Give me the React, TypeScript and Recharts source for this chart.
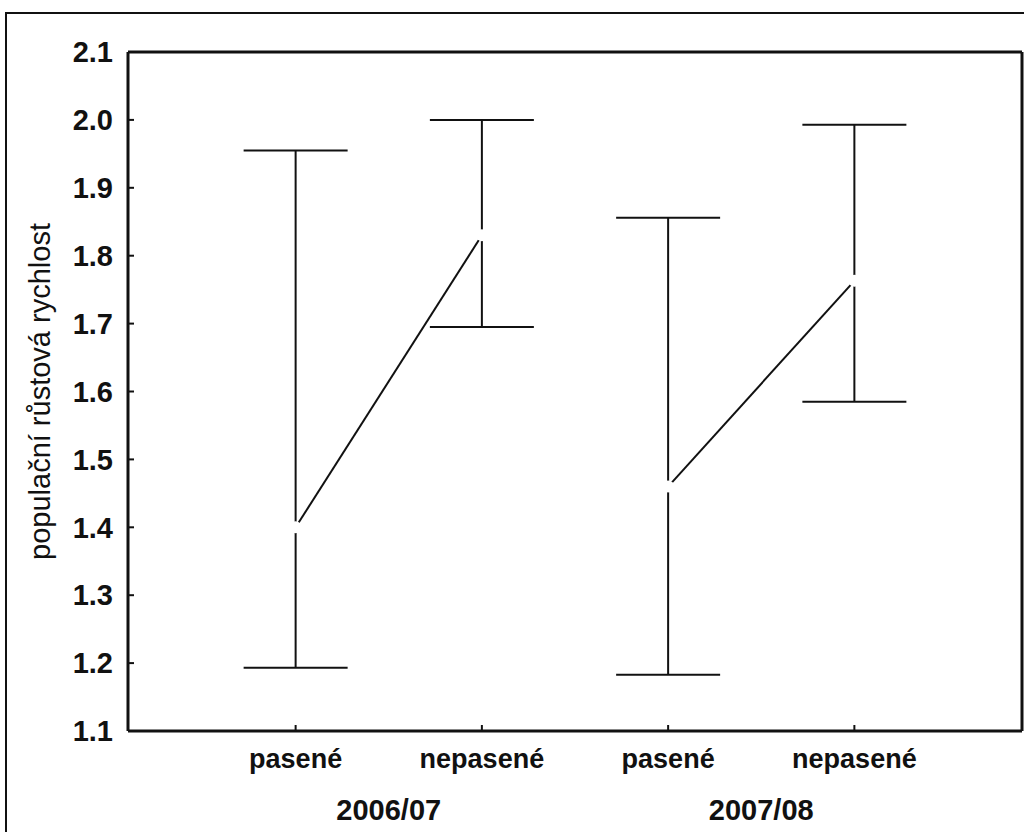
import React from "react";
import {
  ComposedChart,
  Line,
  Scatter,
  ErrorBar,
  XAxis,
  YAxis,
} from "recharts";

const categories = ["pasené", "nepasené", "pasené", "nepasené"];
const groups = ["2006/07", "2007/08"];
const means = [1.4, 1.83, 1.46, 1.763];
const lower = [1.193, 1.695, 1.183, 1.585];
const upper = [1.955, 2.0, 1.856, 1.993];
const yTicks = [1.1, 1.2, 1.3, 1.4, 1.5, 1.6, 1.7, 1.8, 1.9, 2.0, 2.1];

const INK = "#111";
const FONT = "'Liberation Sans', Arial, sans-serif";

const rows = categories.map((c, i) => ({
  x: i + 1,
  label: c,
  mean: means[i],
  err: [means[i] - lower[i], upper[i] - means[i]],
  g1: i < 2 ? means[i] : null,
  g2: i >= 2 ? means[i] : null,
}));

const CAT_TICKS = [1, 2, 3, 4];
const GROUP_TICKS = [1.5, 3.5];
const X_DOMAIN: [number, number] = [0.1, 4.9];

const TICK_TEXT = { fontSize: 27, fontWeight: 700, fill: INK, fontFamily: FONT };
const NUM_TEXT = { fontSize: 29, fontWeight: 700, fill: INK, fontFamily: FONT };

function YLabel({ viewBox }: any) {
  const cx = 40;
  const cy = viewBox.y + viewBox.height / 2;
  return (
    <text
      x={cx}
      y={cy}
      transform={`rotate(-90, ${cx}, ${cy})`}
      textAnchor="middle"
      dominantBaseline="central"
      fontSize={29}
      fontFamily={FONT}
      fill={INK}
    >
      populační růstová rychlost
    </text>
  );
}

export default function App() {
  return (
    <div
      style={{
        position: "absolute",
        left: 0,
        top: 0,
        width: 1024,
        height: 832,
        overflow: "hidden",
        background: "#fff",
      }}
    >
      <div
        style={{
          position: "absolute",
          left: 5,
          top: 12,
          width: 1100,
          height: 900,
          borderLeft: `2px solid ${INK}`,
          borderTop: `2px solid ${INK}`,
        }}
      />
      <div style={{ position: "absolute", left: 0, top: 0 }}>
        <ComposedChart
          width={1024}
          height={832}
          data={rows}
          margin={{ top: 51, right: 0, bottom: 1, left: 0 }}
        >
          <XAxis
            xAxisId="cat"
            dataKey="x"
            type="number"
            domain={X_DOMAIN}
            ticks={CAT_TICKS}
            tickFormatter={(v: number) => categories[v - 1]}
            tick={TICK_TEXT}
            tickSize={-6}
            tickMargin={24}
            height={50}
            axisLine={{ stroke: INK, strokeWidth: 3 }}
            tickLine={{ stroke: INK, strokeWidth: 2 }}
            interval={0}
          />
          <XAxis
            xAxisId="grp"
            dataKey="x"
            type="number"
            domain={X_DOMAIN}
            ticks={GROUP_TICKS}
            tickFormatter={(v: number) => groups[Math.round((v - 1.5) / 2)]}
            tick={NUM_TEXT}
            tickSize={0}
            tickMargin={18}
            height={50}
            axisLine={false}
            tickLine={false}
            interval={0}
          />
          <XAxis
            xAxisId="top"
            orientation="top"
            dataKey="x"
            type="number"
            domain={X_DOMAIN}
            ticks={CAT_TICKS}
            tick={false}
            tickSize={-6}
            height={1}
            axisLine={{ stroke: INK, strokeWidth: 3 }}
            tickLine={{ stroke: INK, strokeWidth: 2 }}
          />
          <YAxis
            yAxisId="left"
            type="number"
            domain={[1.1, 2.1]}
            ticks={yTicks}
            tickFormatter={(v: number) => v.toFixed(1)}
            tick={NUM_TEXT}
            tickSize={-6}
            tickMargin={21}
            width={128}
            axisLine={{ stroke: INK, strokeWidth: 3 }}
            tickLine={{ stroke: INK, strokeWidth: 2 }}
            interval={0}
            label={<YLabel />}
          />
          <YAxis
            yAxisId="right"
            orientation="right"
            type="number"
            domain={[1.1, 2.1]}
            ticks={yTicks}
            tick={false}
            tickSize={-6}
            width={2}
            axisLine={{ stroke: INK, strokeWidth: 3 }}
            tickLine={{ stroke: INK, strokeWidth: 2 }}
          />
          <Line
            xAxisId="cat"
            yAxisId="left"
            dataKey="g1"
            stroke={INK}
            strokeWidth={2}
            dot={false}
            activeDot={false}
            isAnimationActive={false}
          />
          <Line
            xAxisId="cat"
            yAxisId="left"
            dataKey="g2"
            stroke={INK}
            strokeWidth={2}
            dot={false}
            activeDot={false}
            isAnimationActive={false}
          />
          <Line
            xAxisId="cat"
            yAxisId="left"
            dataKey="mean"
            stroke="none"
            dot={false}
            activeDot={false}
            isAnimationActive={false}
          >
            <ErrorBar
              dataKey="err"
              width={52}
              stroke={INK}
              strokeWidth={2}
              isAnimationActive={false}
            />
          </Line>
          <Scatter
            xAxisId="cat"
            yAxisId="left"
            dataKey="mean"
            isAnimationActive={false}
            shape={(p: any) => <circle cx={p.cx} cy={p.cy} r={6} fill="#fff" />}
          />
        </ComposedChart>
      </div>
    </div>
  );
}
